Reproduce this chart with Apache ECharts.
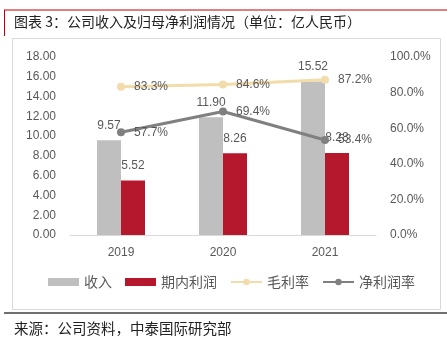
<!DOCTYPE html>
<html><head><meta charset="utf-8">
<script src="https://cdn.jsdelivr.net/npm/echarts@6/dist/echarts.min.js"></script>
<style>html,body{margin:0;padding:0;background:#fff}#c{width:447px;height:340px}</style>
</head><body><div id="c"></div>
<script>
var categories = ['2019', '2020', '2021'];
var revenue = [9.57, 11.90, 15.52];
var profit = [5.52, 8.26, 8.28];
var grossMargin = [83.3, 84.6, 87.2];
var netMargin = [57.7, 69.4, 53.4];
var seriesNames = ['收入', '期内利润', '毛利率', '净利润率'];
var titleText = '图表 3：公司收入及归母净利润情况（单位：亿人民币）';
var sourceText = '来源：公司资料，中泰国际研究部';

var numFont = '"Liberation Sans", "Noto Sans", sans-serif';
var cjk = '"Noto Sans CJK SC", sans-serif';
var chart = echarts.init(document.getElementById('c'));
var labelStyle = {show: true, color: '#595959', fontSize: 12, fontFamily: numFont, distance: 9};
chart.setOption({
  animation: false,
  graphic: [
    {type: 'line', shape: {x1: 4, y1: 10, x2: 447, y2: 10}, style: {stroke: '#c00000', lineWidth: 1}},
    {type: 'line', shape: {x1: 4.5, y1: 10, x2: 4.5, y2: 36}, style: {stroke: '#c00000', lineWidth: 1}},
    {type: 'text', left: 14, top: 15, style: {text: titleText, font: '14px ' + cjk, fill: '#222'}},
    {type: 'rect', shape: {x: 12.5, y: 38.5, width: 428, height: 271}, style: {fill: 'none', stroke: '#d9d9d9', lineWidth: 1}},
    {type: 'line', shape: {x1: 4, y1: 313, x2: 447, y2: 313}, style: {stroke: '#404040', lineWidth: 1.5}},
    {type: 'text', left: 14, top: 321, style: {text: sourceText, font: '14.5px ' + cjk, fill: '#222'}}
  ],
  grid: {left: 70, right: 71, top: 57, bottom: 105},
  legend: {
    bottom: 46, left: 43, itemWidth: 31, itemHeight: 8, itemGap: 13,
    textStyle: {color: '#595959', fontSize: 14, fontFamily: cjk},
    data: [
      {name: seriesNames[0], icon: 'rect'},
      {name: seriesNames[1], icon: 'rect'},
      {name: seriesNames[2]},
      {name: seriesNames[3]}
    ]
  },
  xAxis: {
    type: 'category', data: categories,
    axisLine: {lineStyle: {color: '#d9d9d9'}}, axisTick: {show: false},
    axisLabel: {color: '#595959', fontSize: 12, fontFamily: numFont, margin: 12}
  },
  yAxis: [
    {type: 'value', min: 0, max: 18, interval: 2, splitLine: {show: false},
     axisLabel: {color: '#595959', fontSize: 12, fontFamily: numFont, margin: 14, formatter: function(v){return v.toFixed(2);}}},
    {type: 'value', min: 0, max: 100, interval: 20, splitLine: {show: false},
     axisLabel: {color: '#595959', fontSize: 12, fontFamily: numFont, margin: 14, formatter: function(v){return v.toFixed(1) + '%';}}}
  ],
  series: [
    {name: seriesNames[0], type: 'bar', data: revenue, barWidth: 24, barGap: '0%', itemStyle: {color: '#bfbfbf'},
     label: Object.assign({position: 'top', formatter: function(p){return p.value.toFixed(2);}}, labelStyle)},
    {name: seriesNames[1], type: 'bar', data: profit, barWidth: 24, barGap: '0%', itemStyle: {color: '#b5172c'},
     label: Object.assign({position: 'top', formatter: function(p){return p.value.toFixed(2);}}, labelStyle)},
    {name: seriesNames[2], type: 'line', yAxisIndex: 1, data: grossMargin, symbol: 'circle', symbolSize: 8,
     lineStyle: {color: '#f2dcaa', width: 3}, itemStyle: {color: '#f2dcaa'},
     label: Object.assign({position: 'right', formatter: function(p){return p.value.toFixed(1) + '%';}}, labelStyle)},
    {name: seriesNames[3], type: 'line', yAxisIndex: 1, data: netMargin, symbol: 'circle', symbolSize: 8,
     lineStyle: {color: '#808080', width: 3}, itemStyle: {color: '#808080'},
     label: Object.assign({position: 'right', formatter: function(p){return p.value.toFixed(1) + '%';}}, labelStyle)}
  ]
});
</script></body></html>
